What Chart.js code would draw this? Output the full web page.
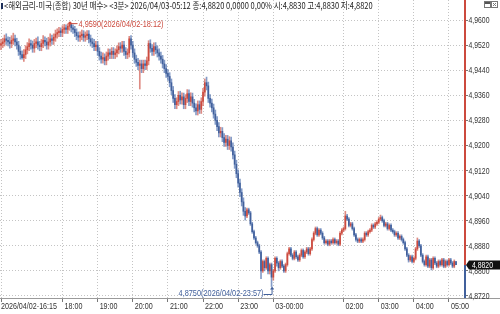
<!DOCTYPE html>
<html>
<head>
<meta charset="utf-8">
<script src="https://cdn.jsdelivr.net/npm/chart.js@4.4.1/dist/chart.umd.min.js"></script>
<style>
html, body { margin: 0; padding: 0; background: #fff; }
#wrap { position: relative; width: 500px; height: 314px; overflow: hidden; }
#c { position: absolute; left: 0; top: 0; }
#mark { position: absolute; left: 1px; top: 3px; width: 2px; height: 6px; background: #1d2f5a; }
#title { position: absolute; left: 4px; top: 0; font: 9px "Noto Sans CJK KR", sans-serif; line-height: 11px; color: #222; white-space: nowrap; transform-origin: 0 0; }
</style>
</head>
<body>
<div id="wrap">
  <canvas id="c" width="500" height="314"></canvas>
  <div id="mark"></div>
  <div id="title">&lt;해외금리-미국(종합) 30년 매수&gt; &lt;3분&gt; 2026/04/03-05:12 종:4,8820 0,0000 0,00% 시:4,8830 고:4,8830 저:4,8820</div>
</div>
<script>
// 3-minute bars, 2026/04/02 16:15 -> 2026/04/03 05:12
const startTime = Date.UTC(2026, 3, 2, 16, 15);
const barMinutes = 3;

const opens = [
  4.9520, 4.9525, 4.9530, 4.9540, 4.9535, 4.9530, 4.9525, 4.9535, 4.9540, 4.9530,
  4.9520, 4.9500, 4.9490, 4.9480, 4.9490, 4.9505, 4.9515, 4.9525, 4.9520, 4.9510,
  4.9525, 4.9530, 4.9520, 4.9515, 4.9525, 4.9535, 4.9530, 4.9520, 4.9530, 4.9540,
  4.9535, 4.9545, 4.9555, 4.9560, 4.9565, 4.9560, 4.9570, 4.9575, 4.9570, 4.9580,
  4.9585, 4.9575, 4.9570, 4.9560, 4.9550, 4.9545, 4.9550, 4.9555, 4.9545, 4.9550,
  4.9555, 4.9540, 4.9530, 4.9525, 4.9515, 4.9520, 4.9500, 4.9485, 4.9475, 4.9480,
  4.9470, 4.9485, 4.9495, 4.9490, 4.9500, 4.9490, 4.9495, 4.9505, 4.9515, 4.9510,
  4.9520, 4.9500, 4.9490, 4.9495, 4.9540, 4.9520, 4.9495, 4.9475, 4.9465, 4.9455,
  4.9460, 4.9445, 4.9460, 4.9455, 4.9470, 4.9525, 4.9510, 4.9500, 4.9515, 4.9505,
  4.9495, 4.9485, 4.9475, 4.9460, 4.9445, 4.9430, 4.9420, 4.9400, 4.9375, 4.9350,
  4.9330, 4.9340, 4.9360, 4.9345, 4.9355, 4.9330, 4.9350, 4.9365, 4.9340, 4.9355,
  4.9335, 4.9320, 4.9310, 4.9330, 4.9315, 4.9340, 4.9370, 4.9400, 4.9390, 4.9350,
  4.9335, 4.9320, 4.9300, 4.9280, 4.9260, 4.9240, 4.9245, 4.9225, 4.9210, 4.9220,
  4.9200, 4.9215, 4.9195, 4.9170, 4.9140, 4.9110, 4.9080, 4.9050, 4.9020, 4.8990,
  4.8975, 4.8995, 4.8985, 4.8950, 4.8925, 4.8905, 4.8890, 4.8880, 4.8860, 4.8800,
  4.8830, 4.8810, 4.8840, 4.8800, 4.8820, 4.8780, 4.8800, 4.8840, 4.8825, 4.8810,
  4.8830, 4.8815, 4.8800, 4.8820, 4.8855, 4.8870, 4.8850, 4.8840, 4.8860, 4.8845,
  4.8835, 4.8850, 4.8865, 4.8845, 4.8860, 4.8870, 4.8855, 4.8870, 4.8900, 4.8920,
  4.8935, 4.8915, 4.8930, 4.8920, 4.8905, 4.8890, 4.8895, 4.8885, 4.8895, 4.8890,
  4.8900, 4.8890, 4.8895, 4.8885, 4.8920, 4.8930, 4.8935, 4.8975, 4.8965, 4.8945,
  4.8950, 4.8935, 4.8915, 4.8900, 4.8895, 4.8900, 4.8895, 4.8900, 4.8920, 4.8915,
  4.8925, 4.8930, 4.8945, 4.8940, 4.8950, 4.8955, 4.8965, 4.8970, 4.8960, 4.8945,
  4.8950, 4.8935, 4.8945, 4.8930, 4.8925, 4.8915, 4.8920, 4.8905, 4.8910, 4.8900,
  4.8890, 4.8870, 4.8850, 4.8835, 4.8845, 4.8830, 4.8840, 4.8870, 4.8895, 4.8880,
  4.8850, 4.8830, 4.8820, 4.8845, 4.8815, 4.8835, 4.8810, 4.8840, 4.8825, 4.8815,
  4.8830, 4.8820, 4.8835, 4.8815, 4.8830, 4.8820, 4.8835, 4.8825, 4.8815, 4.8830
];
const highs = [
  4.9538, 4.9542, 4.9552, 4.9556, 4.9546, 4.9545, 4.9550, 4.9558, 4.9552, 4.9542,
  4.9532, 4.9515, 4.9502, 4.9506, 4.9518, 4.9528, 4.9540, 4.9536, 4.9533, 4.9538,
  4.9542, 4.9546, 4.9532, 4.9538, 4.9550, 4.9546, 4.9542, 4.9545, 4.9556, 4.9552,
  4.9556, 4.9568, 4.9572, 4.9577, 4.9575, 4.9582, 4.9586, 4.9585, 4.9588, 4.9590,
  4.9589, 4.9585, 4.9580, 4.9572, 4.9562, 4.9562, 4.9568, 4.9566, 4.9562, 4.9566,
  4.9566, 4.9552, 4.9542, 4.9538, 4.9532, 4.9532, 4.9512, 4.9498, 4.9495, 4.9492,
  4.9498, 4.9508, 4.9507, 4.9512, 4.9512, 4.9508, 4.9518, 4.9527, 4.9528, 4.9532,
  4.9532, 4.9512, 4.9508, 4.9548, 4.9550, 4.9532, 4.9508, 4.9488, 4.9478, 4.9472,
  4.9472, 4.9472, 4.9472, 4.9482, 4.9534, 4.9537, 4.9522, 4.9527, 4.9528, 4.9518,
  4.9508, 4.9498, 4.9487, 4.9472, 4.9458, 4.9442, 4.9432, 4.9412, 4.9388, 4.9362,
  4.9352, 4.9372, 4.9373, 4.9368, 4.9367, 4.9362, 4.9378, 4.9377, 4.9368, 4.9367,
  4.9347, 4.9333, 4.9342, 4.9342, 4.9352, 4.9382, 4.9412, 4.9418, 4.9402, 4.9362,
  4.9348, 4.9332, 4.9313, 4.9292, 4.9273, 4.9258, 4.9257, 4.9238, 4.9232, 4.9232,
  4.9228, 4.9227, 4.9208, 4.9182, 4.9153, 4.9122, 4.9093, 4.9062, 4.9033, 4.9002,
  4.9000, 4.9000, 4.8990, 4.8955, 4.8930, 4.8910, 4.8895, 4.8885, 4.8865, 4.8835,
  4.8835, 4.8845, 4.8845, 4.8825, 4.8825, 4.8805, 4.8845, 4.8845, 4.8830, 4.8835,
  4.8835, 4.8820, 4.8825, 4.8860, 4.8875, 4.8875, 4.8855, 4.8865, 4.8865, 4.8850,
  4.8855, 4.8870, 4.8870, 4.8865, 4.8875, 4.8875, 4.8875, 4.8905, 4.8925, 4.8940,
  4.8940, 4.8935, 4.8935, 4.8925, 4.8910, 4.8900, 4.8900, 4.8900, 4.8900, 4.8905,
  4.8905, 4.8900, 4.8900, 4.8925, 4.8935, 4.8940, 4.8990, 4.8980, 4.8970, 4.8955,
  4.8955, 4.8940, 4.8920, 4.8905, 4.8905, 4.8905, 4.8905, 4.8925, 4.8925, 4.8930,
  4.8935, 4.8950, 4.8950, 4.8955, 4.8960, 4.8970, 4.8978, 4.8975, 4.8965, 4.8955,
  4.8955, 4.8950, 4.8950, 4.8935, 4.8930, 4.8925, 4.8925, 4.8915, 4.8915, 4.8905,
  4.8895, 4.8875, 4.8855, 4.8850, 4.8850, 4.8845, 4.8875, 4.8905, 4.8900, 4.8885,
  4.8855, 4.8835, 4.8850, 4.8850, 4.8840, 4.8840, 4.8845, 4.8845, 4.8830, 4.8835,
  4.8835, 4.8840, 4.8840, 4.8835, 4.8835, 4.8840, 4.8840, 4.8830, 4.8835, 4.8830
];
const lows = [
  4.9505, 4.9512, 4.9517, 4.9522, 4.9517, 4.9510, 4.9512, 4.9522, 4.9517, 4.9507,
  4.9487, 4.9475, 4.9475, 4.9468, 4.9477, 4.9492, 4.9502, 4.9507, 4.9497, 4.9497,
  4.9512, 4.9507, 4.9502, 4.9502, 4.9512, 4.9517, 4.9507, 4.9507, 4.9517, 4.9522,
  4.9522, 4.9532, 4.9542, 4.9547, 4.9547, 4.9547, 4.9557, 4.9557, 4.9557, 4.9567,
  4.9562, 4.9557, 4.9547, 4.9537, 4.9532, 4.9532, 4.9537, 4.9532, 4.9532, 4.9537,
  4.9527, 4.9517, 4.9512, 4.9502, 4.9502, 4.9487, 4.9472, 4.9462, 4.9462, 4.9457,
  4.9457, 4.9472, 4.9477, 4.9477, 4.9477, 4.9477, 4.9482, 4.9492, 4.9497, 4.9497,
  4.9487, 4.9477, 4.9477, 4.9482, 4.9507, 4.9482, 4.9462, 4.9452, 4.9442, 4.9380,
  4.9432, 4.9432, 4.9442, 4.9442, 4.9457, 4.9497, 4.9487, 4.9487, 4.9492, 4.9482,
  4.9472, 4.9462, 4.9447, 4.9432, 4.9417, 4.9407, 4.9387, 4.9362, 4.9337, 4.9317,
  4.9317, 4.9327, 4.9332, 4.9332, 4.9317, 4.9317, 4.9337, 4.9327, 4.9327, 4.9322,
  4.9307, 4.9297, 4.9297, 4.9302, 4.9302, 4.9327, 4.9357, 4.9377, 4.9337, 4.9322,
  4.9307, 4.9287, 4.9267, 4.9247, 4.9227, 4.9227, 4.9212, 4.9197, 4.9197, 4.9187,
  4.9187, 4.9182, 4.9157, 4.9127, 4.9097, 4.9067, 4.9037, 4.9007, 4.8977, 4.8962,
  4.8970, 4.8980, 4.8945, 4.8920, 4.8900, 4.8885, 4.8875, 4.8855, 4.8775, 4.8795,
  4.8800, 4.8805, 4.8790, 4.8790, 4.8750, 4.8770, 4.8795, 4.8815, 4.8800, 4.8805,
  4.8810, 4.8795, 4.8795, 4.8815, 4.8850, 4.8845, 4.8835, 4.8835, 4.8840, 4.8830,
  4.8830, 4.8845, 4.8840, 4.8840, 4.8855, 4.8850, 4.8850, 4.8865, 4.8895, 4.8915,
  4.8910, 4.8910, 4.8915, 4.8900, 4.8885, 4.8885, 4.8880, 4.8880, 4.8885, 4.8885,
  4.8885, 4.8885, 4.8880, 4.8880, 4.8915, 4.8925, 4.8930, 4.8960, 4.8940, 4.8940,
  4.8930, 4.8910, 4.8895, 4.8890, 4.8890, 4.8890, 4.8890, 4.8895, 4.8910, 4.8910,
  4.8920, 4.8925, 4.8935, 4.8935, 4.8945, 4.8950, 4.8960, 4.8955, 4.8940, 4.8940,
  4.8930, 4.8930, 4.8925, 4.8920, 4.8910, 4.8910, 4.8900, 4.8900, 4.8895, 4.8885,
  4.8865, 4.8845, 4.8828, 4.8830, 4.8825, 4.8825, 4.8835, 4.8865, 4.8875, 4.8845,
  4.8825, 4.8815, 4.8815, 4.8810, 4.8810, 4.8803, 4.8805, 4.8820, 4.8810, 4.8810,
  4.8815, 4.8815, 4.8810, 4.8810, 4.8815, 4.8815, 4.8820, 4.8810, 4.8810, 4.8820
];
const closes = [
  4.9525, 4.9530, 4.9540, 4.9535, 4.9530, 4.9525, 4.9535, 4.9540, 4.9530, 4.9520,
  4.9500, 4.9490, 4.9480, 4.9490, 4.9505, 4.9515, 4.9525, 4.9520, 4.9510, 4.9525,
  4.9530, 4.9520, 4.9515, 4.9525, 4.9535, 4.9530, 4.9520, 4.9530, 4.9540, 4.9535,
  4.9545, 4.9555, 4.9560, 4.9565, 4.9560, 4.9570, 4.9575, 4.9570, 4.9580, 4.9585,
  4.9575, 4.9570, 4.9560, 4.9550, 4.9545, 4.9550, 4.9555, 4.9545, 4.9550, 4.9555,
  4.9540, 4.9530, 4.9525, 4.9515, 4.9520, 4.9500, 4.9485, 4.9475, 4.9480, 4.9470,
  4.9485, 4.9495, 4.9490, 4.9500, 4.9490, 4.9495, 4.9505, 4.9515, 4.9510, 4.9520,
  4.9500, 4.9490, 4.9495, 4.9540, 4.9520, 4.9495, 4.9475, 4.9465, 4.9455, 4.9460,
  4.9445, 4.9460, 4.9455, 4.9470, 4.9525, 4.9510, 4.9500, 4.9515, 4.9505, 4.9495,
  4.9485, 4.9475, 4.9460, 4.9445, 4.9430, 4.9420, 4.9400, 4.9375, 4.9350, 4.9330,
  4.9340, 4.9360, 4.9345, 4.9355, 4.9330, 4.9350, 4.9365, 4.9340, 4.9355, 4.9335,
  4.9320, 4.9310, 4.9330, 4.9315, 4.9340, 4.9370, 4.9400, 4.9390, 4.9350, 4.9335,
  4.9320, 4.9300, 4.9280, 4.9260, 4.9240, 4.9245, 4.9225, 4.9210, 4.9220, 4.9200,
  4.9215, 4.9195, 4.9170, 4.9140, 4.9110, 4.9080, 4.9050, 4.9020, 4.8990, 4.8975,
  4.8995, 4.8985, 4.8950, 4.8925, 4.8905, 4.8890, 4.8880, 4.8860, 4.8800, 4.8830,
  4.8810, 4.8840, 4.8800, 4.8820, 4.8780, 4.8800, 4.8840, 4.8825, 4.8810, 4.8830,
  4.8815, 4.8800, 4.8820, 4.8855, 4.8870, 4.8850, 4.8840, 4.8860, 4.8845, 4.8835,
  4.8850, 4.8865, 4.8845, 4.8860, 4.8870, 4.8855, 4.8870, 4.8900, 4.8920, 4.8935,
  4.8915, 4.8930, 4.8920, 4.8905, 4.8890, 4.8895, 4.8885, 4.8895, 4.8890, 4.8900,
  4.8890, 4.8895, 4.8885, 4.8920, 4.8930, 4.8935, 4.8975, 4.8965, 4.8945, 4.8950,
  4.8935, 4.8915, 4.8900, 4.8895, 4.8900, 4.8895, 4.8900, 4.8920, 4.8915, 4.8925,
  4.8930, 4.8945, 4.8940, 4.8950, 4.8955, 4.8965, 4.8970, 4.8960, 4.8945, 4.8950,
  4.8935, 4.8945, 4.8930, 4.8925, 4.8915, 4.8920, 4.8905, 4.8910, 4.8900, 4.8890,
  4.8870, 4.8850, 4.8835, 4.8845, 4.8830, 4.8840, 4.8870, 4.8895, 4.8880, 4.8850,
  4.8830, 4.8820, 4.8845, 4.8815, 4.8835, 4.8810, 4.8840, 4.8825, 4.8815, 4.8830,
  4.8820, 4.8835, 4.8815, 4.8830, 4.8820, 4.8835, 4.8825, 4.8815, 4.8830, 4.8820
];

// axis ticks
const xTickIdx = [0, 35, 55, 75, 95, 115, 135, 155, 195, 215, 235, 255];
const xTickLabels = ['2026/04/02-16:15', '18:00', '19:00', '20:00', '21:00', '22:00', '23:00',
                     '03-00:00', '02:00', '03:00', '04:00', '05:00'];
const yTicks = [4.8720, 4.8800, 4.8880, 4.8960, 4.9040, 4.9120, 4.9200,
                4.9280, 4.9360, 4.9440, 4.9520, 4.9600];

const RED = '#cc4a3e', BLUE = '#41609c';
const RED_W = 'rgba(214,110,100,0.8)', BLUE_W = 'rgba(100,130,185,0.8)';
const TXT = '#333';

const fmt = v => v.toFixed(4).replace('.', ',');
const isUp = i => closes[i] >= opens[i];

function barTime(i) {
    const d = new Date(startTime + i * barMinutes * 60000);
    const p = n => String(n).padStart(2, '0');
    return d.getUTCFullYear() + '/' + p(d.getUTCMonth() + 1) + '/' + p(d.getUTCDate()) +
        '-' + p(d.getUTCHours()) + ':' + p(d.getUTCMinutes());
}

// draw text squeezed horizontally by k
function squeezed(ctx, txt, x, y, k) {
    ctx.save();
    ctx.translate(x, y);
    ctx.scale(k, 1);
    ctx.fillText(txt, 0, 0);
    ctx.restore();
}

const decor = {
    id: 'decor',
    afterDraw(chart) {
        const { ctx, chartArea: a, scales: { x, y } } = chart;
        ctx.save();
        ctx.font = '9px "Liberation Sans"';
        ctx.textBaseline = 'middle';
        ctx.textAlign = 'left';

        // bottom axis line
        ctx.fillStyle = '#9a9a9a';
        ctx.fillRect(0, a.bottom, 500, 1);

        // x labels
        ctx.fillStyle = TXT;
        const kx = 56 / ctx.measureText(xTickLabels[0]).width;
        xTickIdx.forEach((v, i) => {
            const px = x.getPixelForValue(v);
            squeezed(ctx, xTickLabels[i], i === 0 ? 1 : px + 2, a.bottom + 8.5, kx);
        });

        // y labels
        const ky = 21 / ctx.measureText('4,9600').width;
        yTicks.forEach(v => {
            squeezed(ctx, fmt(v), a.right + 3.5, y.getPixelForValue(v) + 0.5, ky);
        });

        // price axis line, red above last price, blue below
        const last = closes[closes.length - 1];
        const py = Math.round(y.getPixelForValue(last));
        ctx.fillStyle = RED;
        ctx.fillRect(a.right - 1, 0, 2, py);
        ctx.fillStyle = BLUE;
        ctx.fillRect(a.right - 1, py, 2, a.bottom - py);

        // last price tag
        ctx.fillStyle = '#111';
        ctx.beginPath();
        ctx.moveTo(a.right + 1, py);
        ctx.lineTo(a.right + 4, py - 4.5);
        ctx.lineTo(500, py - 4.5);
        ctx.lineTo(500, py + 4.5);
        ctx.lineTo(a.right + 4, py + 4.5);
        ctx.closePath();
        ctx.fill();
        ctx.fillStyle = '#fff';
        squeezed(ctx, fmt(last), a.right + 7, py + 0.5, ky);

        // high marker
        let hi = 0, lo = 0;
        highs.forEach((v, i) => { if (v > highs[hi]) hi = i; });
        lows.forEach((v, i) => { if (v < lows[lo]) lo = i; });
        const hx = x.getPixelForValue(hi), hy = y.getPixelForValue(highs[hi]);
        ctx.fillStyle = RED;
        ctx.strokeStyle = RED;
        ctx.lineWidth = 1;
        ctx.beginPath();
        ctx.arc(hx + 0.5, hy, 1.6, 0, Math.PI * 2);
        ctx.fill();
        ctx.beginPath();
        ctx.moveTo(hx + 1, hy + 0.5);
        ctx.lineTo(hx + 8, hy + 0.5);
        ctx.stroke();
        const hiTxt = fmt(highs[hi]) + '(' + barTime(hi) + ')';
        const ka = 85 / ctx.measureText(hiTxt).width;
        squeezed(ctx, hiTxt, hx + 9, hy + 1, ka);

        // low marker
        const lx = x.getPixelForValue(lo), ly = y.getPixelForValue(lows[lo]);
        const loTxt = fmt(lows[lo]) + '(' + barTime(lo) + ')';
        const lineY = 294.5;
        ctx.fillStyle = BLUE;
        ctx.strokeStyle = BLUE;
        ctx.beginPath();
        ctx.moveTo(lx - 8, lineY);
        ctx.lineTo(lx + 0.5, lineY);
        ctx.lineTo(lx + 0.5, ly + 1);
        ctx.stroke();
        ctx.beginPath();
        ctx.moveTo(lx + 0.5, ly);
        ctx.lineTo(lx - 1.5, ly + 3);
        ctx.lineTo(lx + 2.5, ly + 3);
        ctx.closePath();
        ctx.fill();
        squeezed(ctx, loTxt, lx - 8 - 85, lineY - 1, ka);

        // window icons
        ctx.strokeStyle = '#777';
        ctx.strokeRect(484.5, 1.5, 6, 6);
        ctx.fillStyle = '#555';
        ctx.fillRect(485, 2, 5, 2);
        ctx.strokeRect(491.5, 1.5, 6, 6);
        ctx.beginPath();
        ctx.moveTo(493, 3); ctx.lineTo(496, 6);
        ctx.moveTo(496, 3); ctx.lineTo(493, 6);
        ctx.stroke();
        ctx.restore();
    }
};

new Chart(document.getElementById('c'), {
    type: 'bar',
    data: {
        datasets: [
            {
                label: 'range',
                data: highs.map((h, i) => ({ x: i, y: [lows[i], h] })),
                backgroundColor: c => isUp(c.dataIndex) ? RED_W : BLUE_W,
                barThickness: 1,
                grouped: false,
                order: 2
            },
            {
                label: 'body',
                data: opens.map((o, i) => ({ x: i, y: [o, closes[i]] })),
                backgroundColor: c => isUp(c.dataIndex) ? RED : BLUE,
                barThickness: 1,
                minBarLength: 1,
                grouped: false,
                order: 1
            }
        ]
    },
    options: {
        responsive: false,
        animation: false,
        devicePixelRatio: 1,
        layout: { padding: 0 },
        plugins: { legend: { display: false }, tooltip: { enabled: false } },
        scales: {
            x: {
                type: 'linear',
                offset: false,
                min: -0.5692,
                max: 264.108,
                afterBuildTicks: s => { s.ticks = xTickIdx.map(v => ({ value: v })); },
                afterFit: s => { s.height = 16; },
                ticks: { display: false },
                grid: { offset: false, color: '#c4c4c4', tickColor: '#777', tickLength: 4 },
                border: { display: false, dash: [1, 2] }
            },
            y: {
                position: 'right',
                min: 4.871352,
                max: 4.966378,
                afterBuildTicks: s => { s.ticks = yTicks.map(v => ({ value: v })); },
                afterFit: s => { s.width = 35; },
                ticks: { display: false },
                grid: { color: '#c4c4c4', tickColor: '#777', tickLength: 3 },
                border: { display: false, dash: [1, 2] }
            }
        }
    },
    plugins: [decor]
});

// fit the title line to the reference width
document.fonts.ready.then(() => {
    const t = document.getElementById('title');
    t.style.transform = 'scaleX(' + (369 / t.offsetWidth) + ')';
});
</script>
</body>
</html>
